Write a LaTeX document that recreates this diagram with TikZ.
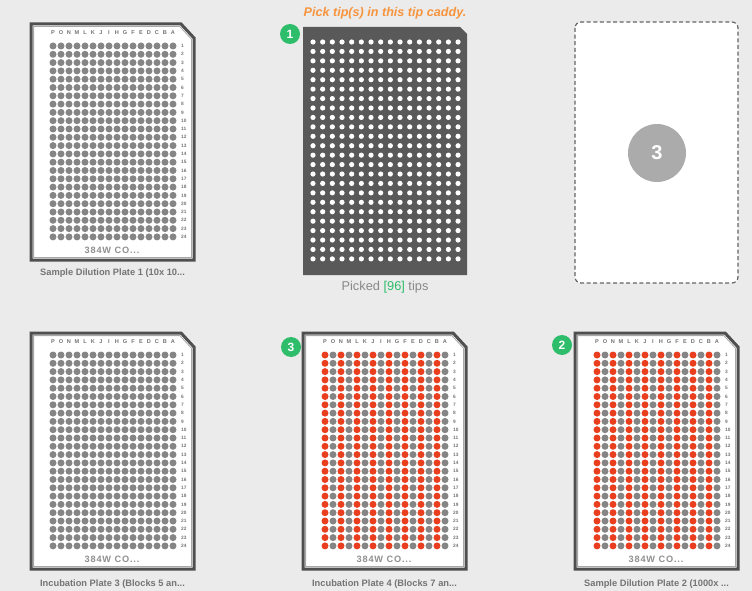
\documentclass[tikz,border=0pt]{standalone}
\usepackage{fontspec}
\setmainfont{Liberation Sans}
\usetikzlibrary{positioning}
\definecolor{bggray}{HTML}{EBEBEB}
\definecolor{platec}{HTML}{4F4F4F}
\definecolor{platel}{HTML}{A8A8A8}
\definecolor{wellc}{HTML}{858585}
\definecolor{hitc}{HTML}{EA3F1E}
\definecolor{badgec}{HTML}{2EBD6B}
\definecolor{caddyc}{HTML}{595959}
\definecolor{txtc}{HTML}{747474}
\definecolor{tipnote}{HTML}{F7943D}
\definecolor{slotc}{HTML}{656565}
\definecolor{emptyc}{HTML}{ABABAB}
\tikzset{
  % plate outline, thick dark edge with a thin light inner rim
  plate edge/.style  = {draw=platec, line width=3pt, fill=white, line join=miter},
  plate rim/.style   = {draw=platel, line width=0.8pt},
  collbl/.style      = {font=\fontsize{5.6}{6}\selectfont\bfseries, text=txtc, inner sep=0pt},
  rowlbl/.style      = {font=\fontsize{4.8}{5}\selectfont\bfseries, text=txtc, inner sep=0pt, anchor=west},
  platename/.style   = {font=\fontsize{9.2}{10}\selectfont\bfseries\addfontfeatures{LetterSpace=9}, text=txtc!80, inner sep=0pt},
  caption/.style     = {font=\fontsize{9.3}{10}\selectfont\bfseries, text=txtc, inner sep=0pt},
  badge/.style       = {circle, fill=badgec, text=white, minimum size=20pt, inner sep=0pt,
                        font=\fontsize{12}{12}\selectfont\bfseries},
  slot/.style        = {draw=slotc, line width=1.2pt, dash pattern=on 4pt off 2.6pt,
                        fill=white, rounded corners=6pt},
}
% #1 left, #2 top, #3 red test in \ci (column) and \rj (row)
\newcommand{\wellplate}[3]{%
  \begin{scope}[shift={(#1,#2)}]
    \draw[plate edge] (0,0) -- (150,0) -- (163,14) -- (163,236) -- (0,236) -- cycle;
    \draw[plate rim] (2.6,2.6) -- (148.9,2.6) -- (160.4,15.1) -- (160.4,233.4) -- (2.6,233.4) -- cycle;
    \foreach \lt [count=\ci from 0] in {P,O,N,M,L,K,J,I,H,G,F,E,D,C,B,A}
      \node[collbl] at (22+8*\ci,9) {\lt};
    \foreach \rj in {1,...,24}
      \node[rowlbl] at (150,13.7+8.3*\rj) {\rj};
    \foreach \ci in {0,...,15}
      \foreach \rj in {0,...,23} {
        \pgfmathtruncatemacro\hit{#3}
        \ifnum\hit>0 \fill[hitc] (22+8*\ci,22+8.3*\rj) circle (3.5);
        \else \fill[wellc] (22+8*\ci,22+8.3*\rj) circle (3.5); \fi
      }
    \node[platename] at (81,226) {384W CO...};
  \end{scope}}

\begin{document}
\begin{tikzpicture}[x=1pt,y=-1pt]
\fill[bggray] (0,0) rectangle (752,591);
\useasboundingbox (0,0) rectangle (752,591);

% top row
\wellplate{31}{24}{0}
\node[caption] (cap1) at (112.5,273) {Sample Dilution Plate 1 (10x 10...};

% tip caddy
\node[font=\fontsize{12.6}{13}\selectfont\bfseries\itshape, text=tipnote, inner sep=0pt]
  (pick) at (385,13) {Pick tip(s) in this tip caddy.};
\fill[caddyc] (303,27) -- (460,27) -- (467,34) -- (467,275) -- (303,275) -- cycle;
\foreach \ci in {0,...,15}
  \foreach \rj in {0,...,23}
    \fill[white] (313+9.67*\ci,42+9.43*\rj) circle (2.6);
\node[badge] (b1) at (290,34) {1};
\node[font=\fontsize{12.8}{13}\selectfont, text=txtc!85, inner sep=0pt]
  (picked) at (385,287) {Picked \textcolor{badgec}{[96]} tips};

% empty slot
\draw[slot] (575,22) rectangle (738,283);
\node[circle, fill=emptyc, text=white, minimum size=58pt, inner sep=0pt,
      font=\fontsize{20}{20}\selectfont\bfseries] (s3) at (657,153) {3};

% bottom row
\wellplate{31}{333}{0}
\node[caption] (cap3) at (112.5,584) {Incubation Plate 3 (Blocks 5 an...};

\wellplate{303}{333}{mod(\ci,2)==0}
\node[badge] (b3) at (291,347) {3};
\node[caption] (cap4) at (384.5,584) {Incubation Plate 4 (Blocks 7 an...};

\wellplate{575}{333}{mod(\ci,2)==0}
\node[badge] (b2) at (562,345) {2};
\node[caption] (cap2) at (656.5,584) {Sample Dilution Plate 2 (1000x ...};
\end{tikzpicture}
\end{document}
